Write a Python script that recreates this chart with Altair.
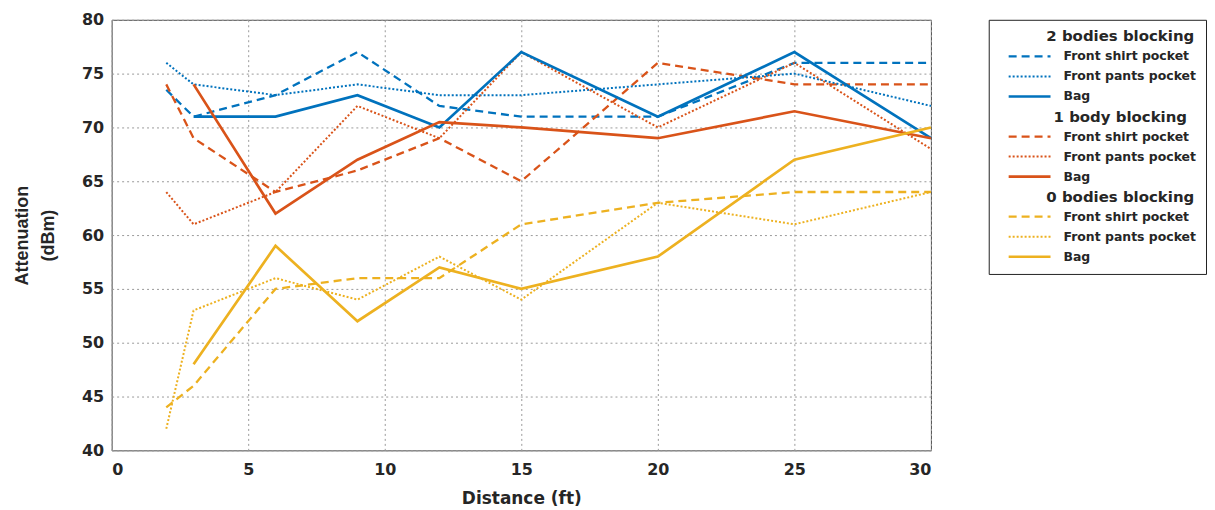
import altair as alt
import pandas as pd

distance = [2, 3, 6, 9, 12, 15, 20, 25, 30]
groups = ["2 bodies blocking", "1 body blocking", "0 bodies blocking"]
placements = ["Front shirt pocket", "Front pants pocket", "Bag"]
group_colors = ["#0072BD", "#D95319", "#EDB120"]

two_shirt = [73.5, 71, 73, 77, 72, 71, 71, 76, 76]
two_pants = [76, 74, 73, 74, 73, 73, 74, 75, 72]
two_bag = [None, 71, 71, 73, 70, 77, 71, 77, 69]
one_shirt = [74, 69, 64, 66, 69, 65, 76, 74, 74]
one_pants = [64, 61, 64, 72, 69, 77, 70, 76, 68]
one_bag = [None, 74, 62, 67, 70.5, 70, 69, 71.5, 69]
zero_shirt = [44, 46, 55, 56, 56, 61, 63, 64, 64]
zero_pants = [42, 53, 56, 54, 58, 54, 63, 61, 64]
zero_bag = [None, 48, 59, 52, 57, 55, 58, 67, 70]

series = [
    [two_shirt, two_pants, two_bag],
    [one_shirt, one_pants, one_bag],
    [zero_shirt, zero_pants, zero_bag],
]

records = []
for g, gname in enumerate(groups):
    for p, pname in enumerate(placements):
        for d, v in zip(distance, series[g][p]):
            if v is not None:
                records.append({"distance": d, "attenuation": v, "group": gname,
                                "placement": pname, "series": f"{gname} - {pname}"})
df = pd.DataFrame(records)

color_scale = alt.Scale(domain=groups, range=group_colors)
styles = {
    "Front shirt pocket": {"strokeDash": [8, 5], "strokeWidth": 2.3},
    "Front pants pocket": {"strokeDash": [2, 2], "strokeWidth": 2.0},
    "Bag": {"strokeWidth": 2.7},
}

FONT = "DejaVu Sans"
TXT = "#262626"

xenc = alt.X("distance:Q",
             scale=alt.Scale(domain=[0, 30], nice=False, zero=False),
             axis=alt.Axis(title="Distance (ft)", values=[0, 5, 10, 15, 20, 25, 30],
                           labelPadding=11, titlePadding=13,
                           titleFont="DejaVu Sans", titleFontSize=17))
yenc = alt.Y("attenuation:Q",
             scale=alt.Scale(domain=[40, 80], nice=False, zero=False),
             axis=alt.Axis(title=["Attenuation", "(dBm)"],
                           values=[40, 45, 50, 55, 60, 65, 70, 75, 80],
                           labelPadding=8, titlePadding=24, titleLineHeight=26,
                           titleFont="Liberation Sans", titleFontSize=18))

main_layers = []
for pname in placements:
    main_layers.append(
        alt.Chart(df).transform_filter(alt.datum.placement == pname)
        .mark_line(strokeCap="butt", **styles[pname])
        .encode(x=xenc, y=yenc,
                color=alt.Color("group:N", scale=color_scale, legend=None),
                detail="series:N")
    )
main = alt.layer(*main_layers).properties(
    width=822, height=432,
    view=alt.ViewBackground(stroke="#4a4a4a", strokeWidth=1))

leg_rows = []
row = 0
for gname in groups:
    leg_rows.append({"row": row, "text": gname, "kind": "header", "group": gname, "placement": ""})
    row += 1
    for pname in placements:
        leg_rows.append({"row": row, "text": pname, "kind": "item", "group": gname, "placement": pname})
        row += 1
leg_df = pd.DataFrame(leg_rows)

ly = alt.Y("row:Q", scale=alt.Scale(domain=[-0.83, 11.86], nice=False, zero=False, reverse=True), axis=None)
base = alt.Chart(leg_df)
headers = base.transform_filter(alt.datum.kind == "header").mark_text(
    align="center", baseline="middle", font=FONT, fontSize=15, fontWeight="bold", color=TXT
).encode(x=alt.value(132), y=ly, text="text:N")
items = base.transform_filter(alt.datum.kind == "item").mark_text(
    align="left", baseline="middle", font=FONT, fontSize=12.5, fontWeight="bold", color=TXT
).encode(x=alt.value(75), y=ly, text="text:N")
sample_layers = []
for pname in placements:
    sample_layers.append(
        base.transform_filter(alt.datum.placement == pname)
        .mark_rule(strokeCap="butt", **styles[pname])
        .encode(x=alt.value(20), x2=alt.value(62), y=ly,
                color=alt.Color("group:N", scale=color_scale, legend=None))
    )
legend = alt.layer(*sample_layers, headers, items).properties(
    width=218, height=255, view=alt.ViewBackground(stroke="#222222", strokeWidth=1))

chart = alt.hconcat(main, legend, spacing=51).resolve_scale(
    x="independent", y="independent"
).properties(
    padding={"left": 5, "top": 2, "right": 0, "bottom": 0}, background="white"
).configure_axis(
    grid=True, gridDash=[2, 3], gridColor="#9a9a9a", gridWidth=1,
    domain=False, ticks=False,
    labelFont=FONT, labelFontWeight="bold", labelFontSize=16, labelColor=TXT,
    titleFont=FONT, titleFontWeight="bold", titleFontSize=17, titleColor=TXT,
)

chart.save("out.html", embed_options={"renderer": "svg", "actions": False})
